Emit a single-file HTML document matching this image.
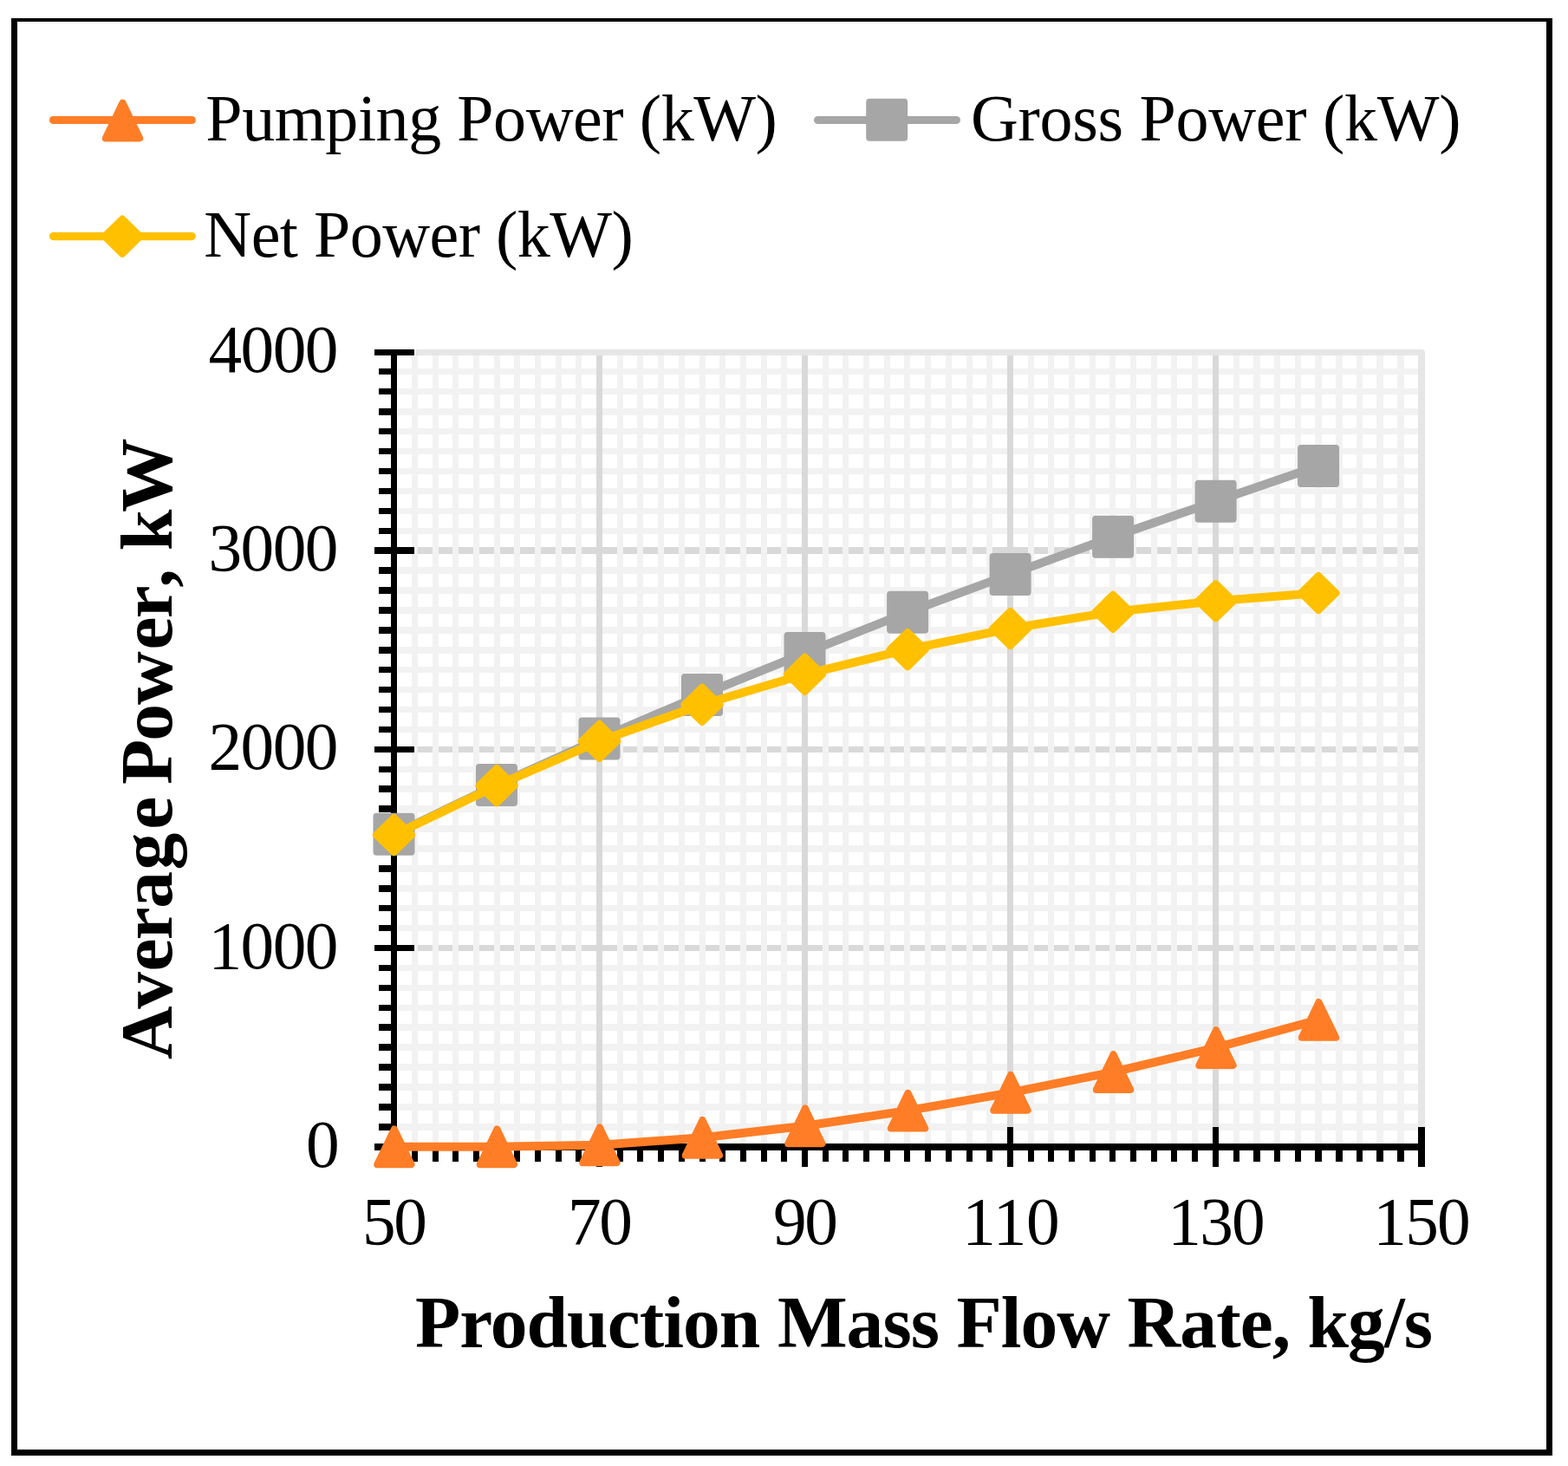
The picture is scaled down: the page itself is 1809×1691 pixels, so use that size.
<!DOCTYPE html>
<html lang="en"><head><meta charset="utf-8"><title>Average Power vs Production Mass Flow Rate</title>
<style>html,body{margin:0;padding:0;background:#fff;}body{width:1809px;height:1691px;overflow:hidden;}svg{display:block;}text{font-family:"Liberation Serif",serif;fill:#000;}</style>
</head><body>
<svg width="1809" height="1691" viewBox="0 0 1809 1691">
<rect x="0" y="0" width="1809" height="1691" fill="#fff"/>
<g fill="#000" shape-rendering="crispEdges">
<rect x="13" y="21" width="1778" height="4"/>
<rect x="13" y="21" width="7" height="1658"/>
<rect x="1784" y="21" width="7" height="1658"/>
<rect x="13" y="1672" width="1778" height="7"/>
</g>
<g shape-rendering="crispEdges">
<g fill="#D9D9D9">
<rect x="459" y="631" width="1181" height="8"/>
<rect x="459" y="861" width="1181" height="7"/>
<rect x="459" y="1090" width="1181" height="7"/>
</g>
<g fill="#F2F2F2">
<rect x="459" y="425" width="1181" height="7"/>
<rect x="459" y="448" width="1181" height="7"/>
<rect x="459" y="471" width="1181" height="8"/>
<rect x="459" y="494" width="1181" height="7"/>
<rect x="459" y="517" width="1181" height="7"/>
<rect x="459" y="540" width="1181" height="7"/>
<rect x="459" y="563" width="1181" height="7"/>
<rect x="459" y="586" width="1181" height="7"/>
<rect x="459" y="609" width="1181" height="7"/>
<rect x="459" y="654" width="1181" height="8"/>
<rect x="459" y="677" width="1181" height="8"/>
<rect x="459" y="700" width="1181" height="8"/>
<rect x="459" y="723" width="1181" height="8"/>
<rect x="459" y="746" width="1181" height="8"/>
<rect x="459" y="769" width="1181" height="7"/>
<rect x="459" y="792" width="1181" height="7"/>
<rect x="459" y="815" width="1181" height="7"/>
<rect x="459" y="838" width="1181" height="7"/>
<rect x="459" y="884" width="1181" height="7"/>
<rect x="459" y="906" width="1181" height="8"/>
<rect x="459" y="929" width="1181" height="8"/>
<rect x="459" y="952" width="1181" height="8"/>
<rect x="459" y="975" width="1181" height="8"/>
<rect x="459" y="998" width="1181" height="8"/>
<rect x="459" y="1021" width="1181" height="8"/>
<rect x="459" y="1044" width="1181" height="7"/>
<rect x="459" y="1067" width="1181" height="7"/>
<rect x="459" y="1113" width="1181" height="7"/>
<rect x="459" y="1136" width="1181" height="7"/>
<rect x="459" y="1159" width="1181" height="7"/>
<rect x="459" y="1181" width="1181" height="8"/>
<rect x="459" y="1204" width="1181" height="8"/>
<rect x="459" y="1227" width="1181" height="8"/>
<rect x="459" y="1250" width="1181" height="8"/>
<rect x="459" y="1273" width="1181" height="8"/>
<rect x="459" y="1296" width="1181" height="8"/>
<rect x="475" y="410" width="7" height="909"/>
<rect x="499" y="410" width="7" height="909"/>
<rect x="522" y="410" width="7" height="909"/>
<rect x="546" y="410" width="7" height="909"/>
<rect x="570" y="410" width="7" height="909"/>
<rect x="593" y="410" width="7" height="909"/>
<rect x="617" y="410" width="7" height="909"/>
<rect x="641" y="410" width="7" height="909"/>
<rect x="664" y="410" width="7" height="909"/>
<rect x="712" y="410" width="7" height="909"/>
<rect x="735" y="410" width="7" height="909"/>
<rect x="759" y="410" width="7" height="909"/>
<rect x="783" y="410" width="7" height="909"/>
<rect x="807" y="410" width="7" height="909"/>
<rect x="830" y="410" width="7" height="909"/>
<rect x="854" y="410" width="7" height="909"/>
<rect x="878" y="410" width="7" height="909"/>
<rect x="901" y="410" width="7" height="909"/>
<rect x="949" y="410" width="7" height="909"/>
<rect x="972" y="410" width="7" height="909"/>
<rect x="996" y="410" width="7" height="909"/>
<rect x="1020" y="410" width="7" height="909"/>
<rect x="1043" y="410" width="7" height="909"/>
<rect x="1067" y="410" width="7" height="909"/>
<rect x="1091" y="410" width="7" height="909"/>
<rect x="1115" y="410" width="7" height="909"/>
<rect x="1138" y="410" width="7" height="909"/>
<rect x="1186" y="410" width="7" height="909"/>
<rect x="1209" y="410" width="7" height="909"/>
<rect x="1233" y="410" width="7" height="909"/>
<rect x="1257" y="410" width="7" height="909"/>
<rect x="1280" y="410" width="7" height="909"/>
<rect x="1304" y="410" width="7" height="909"/>
<rect x="1328" y="410" width="7" height="909"/>
<rect x="1351" y="410" width="7" height="909"/>
<rect x="1375" y="410" width="7" height="909"/>
<rect x="1423" y="410" width="7" height="909"/>
<rect x="1446" y="410" width="8" height="909"/>
<rect x="1470" y="410" width="7" height="909"/>
<rect x="1494" y="410" width="7" height="909"/>
<rect x="1517" y="410" width="8" height="909"/>
<rect x="1541" y="410" width="8" height="909"/>
<rect x="1565" y="410" width="7" height="909"/>
<rect x="1588" y="410" width="8" height="909"/>
<rect x="1612" y="410" width="8" height="909"/>
</g>
<g fill="#D9D9D9">
<rect x="688" y="410" width="7" height="909"/>
<rect x="925" y="410" width="7" height="909"/>
<rect x="1162" y="410" width="7" height="909"/>
<rect x="1399" y="410" width="7" height="909"/>
</g>
<path fill="#E6E6E6" d="M479 403 H1642 V404 H1643 V405 H1644 V1300 H1636 V410 H479 Z"/>
</g>
<g fill="#000" shape-rendering="crispEdges">
<rect x="451" y="403" width="7" height="924"/>
<rect x="451" y="1319" width="1193" height="8"/>
<rect x="432" y="403" width="46" height="7"/>
<rect x="437" y="425" width="15" height="7"/>
<rect x="437" y="448" width="15" height="7"/>
<rect x="437" y="471" width="15" height="8"/>
<rect x="437" y="494" width="15" height="7"/>
<rect x="437" y="517" width="15" height="7"/>
<rect x="437" y="540" width="15" height="7"/>
<rect x="437" y="563" width="15" height="7"/>
<rect x="437" y="586" width="15" height="7"/>
<rect x="437" y="609" width="15" height="7"/>
<rect x="432" y="631" width="46" height="8"/>
<rect x="437" y="654" width="15" height="8"/>
<rect x="437" y="677" width="15" height="8"/>
<rect x="437" y="700" width="15" height="8"/>
<rect x="437" y="723" width="15" height="8"/>
<rect x="437" y="746" width="15" height="8"/>
<rect x="437" y="769" width="15" height="7"/>
<rect x="437" y="792" width="15" height="7"/>
<rect x="437" y="815" width="15" height="7"/>
<rect x="437" y="838" width="15" height="7"/>
<rect x="432" y="861" width="46" height="7"/>
<rect x="437" y="884" width="15" height="7"/>
<rect x="437" y="906" width="15" height="8"/>
<rect x="437" y="929" width="15" height="8"/>
<rect x="437" y="952" width="15" height="8"/>
<rect x="437" y="975" width="15" height="8"/>
<rect x="437" y="998" width="15" height="8"/>
<rect x="437" y="1021" width="15" height="8"/>
<rect x="437" y="1044" width="15" height="7"/>
<rect x="437" y="1067" width="15" height="7"/>
<rect x="432" y="1090" width="46" height="7"/>
<rect x="437" y="1113" width="15" height="7"/>
<rect x="437" y="1136" width="15" height="7"/>
<rect x="437" y="1159" width="15" height="7"/>
<rect x="437" y="1181" width="15" height="8"/>
<rect x="437" y="1204" width="15" height="8"/>
<rect x="437" y="1227" width="15" height="8"/>
<rect x="437" y="1250" width="15" height="8"/>
<rect x="437" y="1273" width="15" height="8"/>
<rect x="437" y="1296" width="15" height="8"/>
<rect x="432" y="1319" width="46" height="8"/>
<rect x="451" y="1300" width="7" height="46"/>
<rect x="475" y="1326" width="7" height="14"/>
<rect x="499" y="1326" width="7" height="14"/>
<rect x="522" y="1326" width="7" height="14"/>
<rect x="546" y="1326" width="7" height="14"/>
<rect x="570" y="1326" width="7" height="14"/>
<rect x="593" y="1326" width="7" height="14"/>
<rect x="617" y="1326" width="7" height="14"/>
<rect x="641" y="1326" width="7" height="14"/>
<rect x="664" y="1326" width="7" height="14"/>
<rect x="688" y="1300" width="7" height="46"/>
<rect x="712" y="1326" width="7" height="14"/>
<rect x="735" y="1326" width="7" height="14"/>
<rect x="759" y="1326" width="7" height="14"/>
<rect x="783" y="1326" width="7" height="14"/>
<rect x="807" y="1326" width="7" height="14"/>
<rect x="830" y="1326" width="7" height="14"/>
<rect x="854" y="1326" width="7" height="14"/>
<rect x="878" y="1326" width="7" height="14"/>
<rect x="901" y="1326" width="7" height="14"/>
<rect x="925" y="1300" width="7" height="46"/>
<rect x="949" y="1326" width="7" height="14"/>
<rect x="972" y="1326" width="7" height="14"/>
<rect x="996" y="1326" width="7" height="14"/>
<rect x="1020" y="1326" width="7" height="14"/>
<rect x="1043" y="1326" width="7" height="14"/>
<rect x="1067" y="1326" width="7" height="14"/>
<rect x="1091" y="1326" width="7" height="14"/>
<rect x="1115" y="1326" width="7" height="14"/>
<rect x="1138" y="1326" width="7" height="14"/>
<rect x="1162" y="1300" width="7" height="46"/>
<rect x="1186" y="1326" width="7" height="14"/>
<rect x="1209" y="1326" width="7" height="14"/>
<rect x="1233" y="1326" width="7" height="14"/>
<rect x="1257" y="1326" width="7" height="14"/>
<rect x="1280" y="1326" width="7" height="14"/>
<rect x="1304" y="1326" width="7" height="14"/>
<rect x="1328" y="1326" width="7" height="14"/>
<rect x="1351" y="1326" width="7" height="14"/>
<rect x="1375" y="1326" width="7" height="14"/>
<rect x="1399" y="1300" width="7" height="46"/>
<rect x="1423" y="1326" width="7" height="14"/>
<rect x="1446" y="1326" width="8" height="14"/>
<rect x="1470" y="1326" width="7" height="14"/>
<rect x="1494" y="1326" width="7" height="14"/>
<rect x="1517" y="1326" width="8" height="14"/>
<rect x="1541" y="1326" width="8" height="14"/>
<rect x="1565" y="1326" width="7" height="14"/>
<rect x="1588" y="1326" width="8" height="14"/>
<rect x="1612" y="1326" width="8" height="14"/>
<rect x="1636" y="1300" width="8" height="46"/>
</g>
<g stroke="#FF7D26" fill="#FF7D26" stroke-linejoin="round" stroke-linecap="round">
<polyline points="454.5,1322.8 573.0,1322.8 691.5,1320.8 810.0,1312.3 928.5,1298.8 1047.1,1281.2 1165.6,1260.3 1284.1,1236.6 1402.6,1208.5 1521.1,1176.4" fill="none" stroke-width="10.0"/>
<path stroke-width="8" d="M454.9 1302.4 L474.6 1343.2 L435.2 1343.2 Z M573.4 1302.4 L593.1 1343.2 L553.7 1343.2 Z M691.9 1300.4 L711.6 1341.2 L672.2 1341.2 Z M810.4 1291.9 L830.1 1332.7 L790.7 1332.7 Z M928.9 1278.4 L948.6 1319.2 L909.2 1319.2 Z M1047.5 1260.8 L1067.2 1301.6 L1027.8 1301.6 Z M1166.0 1239.9 L1185.7 1280.7 L1146.3 1280.7 Z M1284.5 1216.2 L1304.2 1257.0 L1264.8 1257.0 Z M1403.0 1188.1 L1422.7 1228.9 L1383.3 1228.9 Z M1521.5 1156.0 L1541.2 1196.8 L1501.8 1196.8 Z"/>
</g>
<g stroke="#A6A6A6" fill="#A6A6A6" stroke-linejoin="round" stroke-linecap="round">
<polyline points="454.5,962.3 573.0,905.5 691.5,852.0 810.0,801.4 928.5,753.4 1047.1,706.3 1165.6,662.4 1284.1,619.2 1402.6,578.3 1521.1,537.4" fill="none" stroke-width="10.0"/>
<path stroke-width="8" d="M434.5 941.8 h40 v41 h-40 Z M553.0 885.0 h40 v41 h-40 Z M671.5 831.5 h40 v41 h-40 Z M790.0 780.9 h40 v41 h-40 Z M908.5 732.9 h40 v41 h-40 Z M1027.1 685.8 h40 v41 h-40 Z M1145.6 641.9 h40 v41 h-40 Z M1264.1 598.7 h40 v41 h-40 Z M1382.6 557.8 h40 v41 h-40 Z M1501.1 516.9 h40 v41 h-40 Z"/>
</g>
<g stroke="#FFC000" fill="#FFC000" stroke-linejoin="round" stroke-linecap="round">
<polyline points="454.5,963.1 573.0,906.2 691.5,854.9 810.0,812.8 928.5,777.8 1047.1,749.2 1165.6,725.0 1284.1,705.8 1402.6,693.3 1521.1,684.0" fill="none" stroke-width="10.0"/>
<path stroke-width="8" d="M454.5 943.0 l20.6 20.1 l-20.6 20.1 l-20.6 -20.1 Z M573.0 886.1 l20.6 20.1 l-20.6 20.1 l-20.6 -20.1 Z M691.5 834.8 l20.6 20.1 l-20.6 20.1 l-20.6 -20.1 Z M810.0 792.7 l20.6 20.1 l-20.6 20.1 l-20.6 -20.1 Z M928.5 757.7 l20.6 20.1 l-20.6 20.1 l-20.6 -20.1 Z M1047.1 729.1 l20.6 20.1 l-20.6 20.1 l-20.6 -20.1 Z M1165.6 704.9 l20.6 20.1 l-20.6 20.1 l-20.6 -20.1 Z M1284.1 685.7 l20.6 20.1 l-20.6 20.1 l-20.6 -20.1 Z M1402.6 673.2 l20.6 20.1 l-20.6 20.1 l-20.6 -20.1 Z M1521.1 663.9 l20.6 20.1 l-20.6 20.1 l-20.6 -20.1 Z"/>
</g>
<g stroke="#FF7D26" fill="#FF7D26" stroke-linejoin="round" stroke-linecap="round">
<line x1="61.5" y1="138.5" x2="221.3" y2="138.5" stroke-width="9.2"/>
<path stroke-width="8" d="M141.5 118.6 L161.2 159.4 L121.8 159.4 Z"/>
</g>
<g stroke="#A6A6A6" fill="#A6A6A6" stroke-linejoin="round" stroke-linecap="round">
<line x1="943.6" y1="138.5" x2="1103.4" y2="138.5" stroke-width="9.2"/>
<path stroke-width="8" d="M1003.2 117.7 h40 v41 h-40 Z"/>
</g>
<g stroke="#FFC000" fill="#FFC000" stroke-linejoin="round" stroke-linecap="round">
<line x1="61.5" y1="272.6" x2="221.3" y2="272.6" stroke-width="9.2"/>
<path stroke-width="8" d="M141.1 252.6 l20.6 20.1 l-20.6 20.1 l-20.6 -20.1 Z"/>
</g>
<text x="237.30" y="162.00" font-size="76.00" textLength="659.50" lengthAdjust="spacing">Pumping Power (kW)</text>
<text x="1120.00" y="162.00" font-size="76.00" textLength="565.50" lengthAdjust="spacing">Gross Power (kW)</text>
<text x="235.30" y="295.60" font-size="76.00" textLength="495.50" lengthAdjust="spacing">Net Power (kW)</text>
<text x="240.50" y="428.50" font-size="77.30" textLength="150.00" lengthAdjust="spacing">4000</text>
<text x="240.50" y="657.90" font-size="77.30" textLength="150.00" lengthAdjust="spacing">3000</text>
<text x="240.50" y="887.20" font-size="77.30" textLength="150.00" lengthAdjust="spacing">2000</text>
<text x="240.50" y="1116.50" font-size="77.30" textLength="150.00" lengthAdjust="spacing">1000</text>
<text x="353.00" y="1345.60" font-size="77.30" textLength="37.50" lengthAdjust="spacing">0</text>
<text x="418.00" y="1435.30" font-size="77.30" textLength="75.00" lengthAdjust="spacing">50</text>
<text x="655.00" y="1435.30" font-size="77.30" textLength="75.00" lengthAdjust="spacing">70</text>
<text x="892.00" y="1435.30" font-size="77.30" textLength="75.00" lengthAdjust="spacing">90</text>
<text x="1110.25" y="1435.30" font-size="77.30" textLength="112.50" lengthAdjust="spacing">110</text>
<text x="1347.25" y="1435.30" font-size="77.30" textLength="112.50" lengthAdjust="spacing">130</text>
<text x="1584.25" y="1435.30" font-size="77.30" textLength="112.50" lengthAdjust="spacing">150</text>
<text x="479.00" y="1553.70" font-size="85.50" font-weight="bold" textLength="1174.00" lengthAdjust="spacing">Production Mass Flow Rate, kg/s</text>
<g transform="translate(198.00 1219.80) rotate(-90)">
<text font-size="85.50" font-weight="bold" y="0" x="-2.25 56.00 99.25 135.45 172.15 216.35 263.10 293.45 314.85 364.95 406.90 470.35 506.65 542.30 563.10 584.50 628.90">Average Power, kW</text>
</g>
</svg>
</body></html>
